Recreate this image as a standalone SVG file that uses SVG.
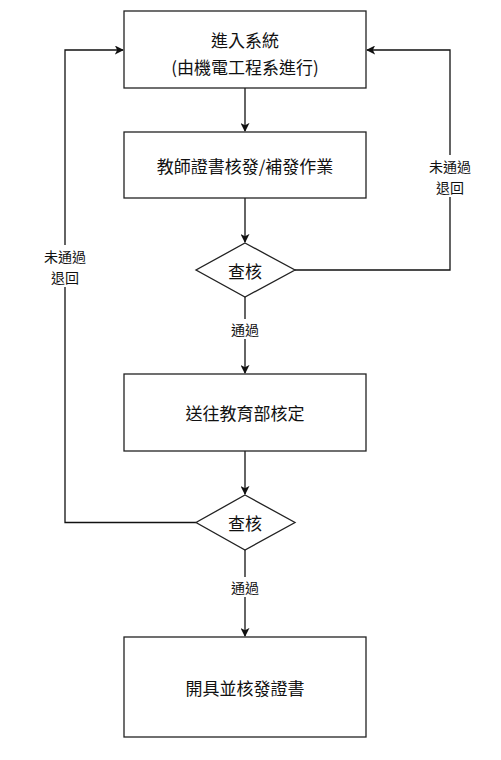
<svg xmlns="http://www.w3.org/2000/svg" width="501" height="760" viewBox="0 0 501 760">
<style>
.box{fill:#fff;stroke:#222;stroke-width:1.3}
.t{font-family:"Noto Sans CJK TC","Noto Sans CJK SC",sans-serif;font-size:17px;fill:#111;text-anchor:middle;dominant-baseline:central}
.l{font-family:"Noto Sans CJK TC","Noto Sans CJK SC",sans-serif;font-size:14px;fill:#111;text-anchor:middle;dominant-baseline:central}
.c{fill:none;stroke:#111;stroke-width:1.3}
.lb{fill:#fff}
</style>
<defs>
<marker id="a" viewBox="0 0 10 10" refX="9" refY="5" markerWidth="9" markerHeight="9" markerUnits="userSpaceOnUse" orient="auto">
<path d="M0,0 L10,5 L0,10 L2.5,5 Z" fill="#111"/>
</marker>
</defs>
<g id="connectors">
<path class="c" d="M245,88 V131" marker-end="url(#a)"/>
<path class="c" d="M245,198 V242" marker-end="url(#a)"/>
<path class="c" d="M295,270 H450 V50 H367" marker-end="url(#a)"/>
<path class="c" d="M245,297 V373" marker-end="url(#a)"/>
<path class="c" d="M245,451 V494" marker-end="url(#a)"/>
<path class="c" d="M196,522.5 H65 V50 H123" marker-end="url(#a)"/>
<path class="c" d="M245,550 V636" marker-end="url(#a)"/>
<rect class="lb" x="226" y="319" width="38" height="20"/>
<text class="l" x="245" y="329">通過</text>
<rect class="lb" x="226" y="577" width="38" height="20"/>
<text class="l" x="245" y="587">通過</text>
<rect class="lb" x="426" y="155" width="48" height="42"/>
<text class="l" x="450" y="165.5">未通過<tspan x="450" dy="21">退回</tspan></text>
<rect class="lb" x="41" y="245" width="48" height="42"/>
<text class="l" x="65" y="255.5">未通過<tspan x="65" dy="21">退回</tspan></text>
</g>
<g id="n1">
<rect class="box" x="124" y="11" width="242" height="77"/>
<text class="t" x="245" y="39">進入系統<tspan x="245" dy="27">(由機電工程系進行)</tspan></text>
</g>
<g id="n2">
<rect class="box" x="124" y="132" width="242" height="66"/>
<text class="t" x="245" y="165">教師證書核發/補發作業</text>
</g>
<g id="d1">
<path class="box" d="M245,243 L295,270 L245,297 L196,270 Z"/>
<text class="t" x="245" y="270">查核</text>
</g>
<g id="n3">
<rect class="box" x="124" y="374" width="242" height="77"/>
<text class="t" x="245" y="412">送往教育部核定</text>
</g>
<g id="d2">
<path class="box" d="M245,495 L295,522.5 L245,550 L196,522.5 Z"/>
<text class="t" x="245" y="522.5">查核</text>
</g>
<g id="n4">
<rect class="box" x="124" y="637" width="242" height="100"/>
<text class="t" x="245" y="687">開具並核發證書</text>
</g>
</svg>
